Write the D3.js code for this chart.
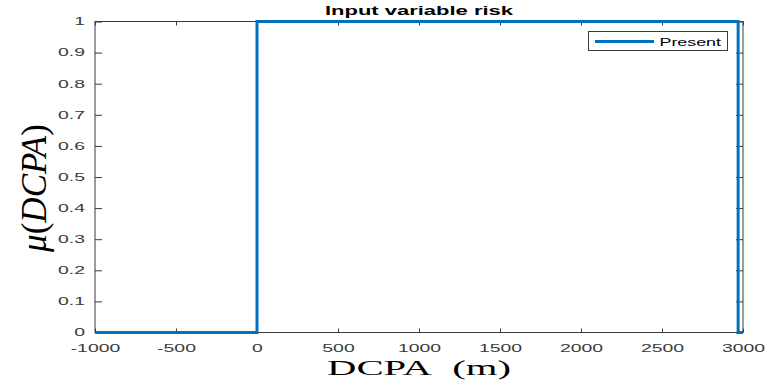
<!DOCTYPE html>
<html>
<head>
<meta charset="utf-8">
<script src="https://cdn.jsdelivr.net/npm/d3@7"></script>
<style>
  html, body { margin: 0; padding: 0; background: #fff; }
  svg { display: block; }
</style>
</head>
<body>
<svg id="chart" width="766" height="387"></svg>
<script>
// Membership function of the "Present" set for DCPA
const dcpa = [-1000, 0, 0, 2970, 2970, 3000];
const membership = [0, 0, 1, 1, 0, 0];
const seriesName = "Present";

const xTicks = [-1000, -500, 0, 500, 1000, 1500, 2000, 2500, 3000];
const yTicks = [0, 0.1, 0.2, 0.3, 0.4, 0.5, 0.6, 0.7, 0.8, 0.9, 1];

const W = 766, H = 387;
const plot = { left: 95, right: 743, top: 21.5, bottom: 332.5 };
const axisColor = "#3a3a3a";
const lineColor = "#0072BD";
const sx = 1.85; // horizontal text stretch

const svg = d3.select("#chart");

const x = d3.scaleLinear().domain([-1000, 3000]).range([plot.left, plot.right]);
const y = d3.scaleLinear().domain([0, 1]).range([plot.bottom, plot.top]);

const fmtY = d => d3.format("~g")(d);
const fmtX = d => d3.format("d")(d).replace("−", "-");

// Bottom axis with inward ticks
const gx = svg.append("g")
  .attr("transform", `translate(0,${plot.bottom})`)
  .call(d3.axisBottom(x).tickValues(xTicks).tickFormat(fmtX)
    .tickSizeInner(-4).tickSizeOuter(0).tickPadding(12));
// Top axis ticks (mirrored, no labels)
const gxt = svg.append("g")
  .attr("transform", `translate(0,${plot.top})`)
  .call(d3.axisTop(x).tickValues(xTicks).tickFormat("")
    .tickSizeInner(-4).tickSizeOuter(0));
// Left axis with inward ticks
const gy = svg.append("g")
  .attr("transform", `translate(${plot.left},0)`)
  .call(d3.axisLeft(y).tickValues(yTicks).tickFormat(fmtY)
    .tickSizeInner(-7).tickSizeOuter(0).tickPadding(10));
// Right axis ticks (mirrored, no labels)
const gyr = svg.append("g")
  .attr("transform", `translate(${plot.right},0)`)
  .call(d3.axisRight(y).tickValues(yTicks).tickFormat("")
    .tickSizeInner(-7).tickSizeOuter(0));

[gx, gxt, gy, gyr].forEach(g => {
  g.select(".domain").remove();
  g.selectAll(".tick line").attr("stroke", axisColor).attr("stroke-width", 1);
  g.selectAll(".tick text")
    .attr("fill", axisColor)
    .style("font-family", "'Liberation Sans', Arial, sans-serif")
    .style("font-size", "10.5px");
});

gx.selectAll(".tick text").attr("transform", `scale(${sx},1)`);
gy.selectAll(".tick text").each(function () {
  const t = d3.select(this);
  t.attr("x", 0).attr("transform", `translate(-10,0) scale(${sx},1)`);
});

// Axes box
svg.append("rect")
  .attr("x", plot.left).attr("y", plot.top)
  .attr("width", plot.right - plot.left)
  .attr("height", plot.bottom - plot.top)
  .attr("fill", "none").attr("stroke", axisColor).attr("stroke-width", 1);

// Membership curve
const line = d3.line().x((d, i) => x(dcpa[i])).y((d, i) => y(membership[i]));
svg.append("path")
  .datum(dcpa)
  .attr("d", line)
  .attr("fill", "none")
  .attr("stroke", lineColor)
  .attr("stroke-width", 3)
  .attr("stroke-linejoin", "miter");

// Title
svg.append("text")
  .attr("transform", `translate(${(plot.left + plot.right) / 2},15) scale(1.69,1)`)
  .attr("text-anchor", "middle")
  .attr("fill", "#000")
  .style("font-family", "'Liberation Sans', Arial, sans-serif")
  .style("font-weight", "bold")
  .style("font-size", "13px")
  .text("Input variable risk");

// X label
const xl = svg.append("text")
  .attr("transform", `translate(${(plot.left + plot.right) / 2},375) scale(1.85,1)`)
  .attr("text-anchor", "middle")
  .attr("fill", "#000")
  .style("font-family", "'Liberation Serif', 'Times New Roman', serif")
  .style("font-size", "22px");
xl.append("tspan").text("DCPA");
xl.append("tspan").attr("dx", 11).text("(m)");

// Y label
const yl = svg.append("text")
  .attr("transform", `translate(46,188) rotate(-90)`)
  .attr("text-anchor", "middle")
  .attr("fill", "#000")
  .style("font-family", "'Liberation Serif', 'Times New Roman', serif")
  .style("font-size", "35px");
yl.append("tspan").style("font-style", "italic").text("μ");
yl.append("tspan").text("(");
yl.append("tspan").style("font-style", "italic").text("DCPA");
yl.append("tspan").text(")");

// Legend
const lg = { x: 588.5, y: 31.5, w: 139, h: 19 };
const legend = svg.append("g");
legend.append("rect")
  .attr("x", lg.x).attr("y", lg.y).attr("width", lg.w).attr("height", lg.h)
  .attr("fill", "#fff").attr("stroke", axisColor).attr("stroke-width", 1);
legend.append("line")
  .attr("x1", lg.x + 6.5).attr("x2", lg.x + 65.5)
  .attr("y1", lg.y + 10).attr("y2", lg.y + 10)
  .attr("stroke", lineColor).attr("stroke-width", 3);
legend.append("text")
  .attr("transform", `translate(${lg.x + 71},${lg.y + 14}) scale(1.7,1)`)
  .attr("fill", "#000")
  .style("font-family", "'Liberation Sans', Arial, sans-serif")
  .style("font-size", "10.5px")
  .text(seriesName);
</script>
</body>
</html>
